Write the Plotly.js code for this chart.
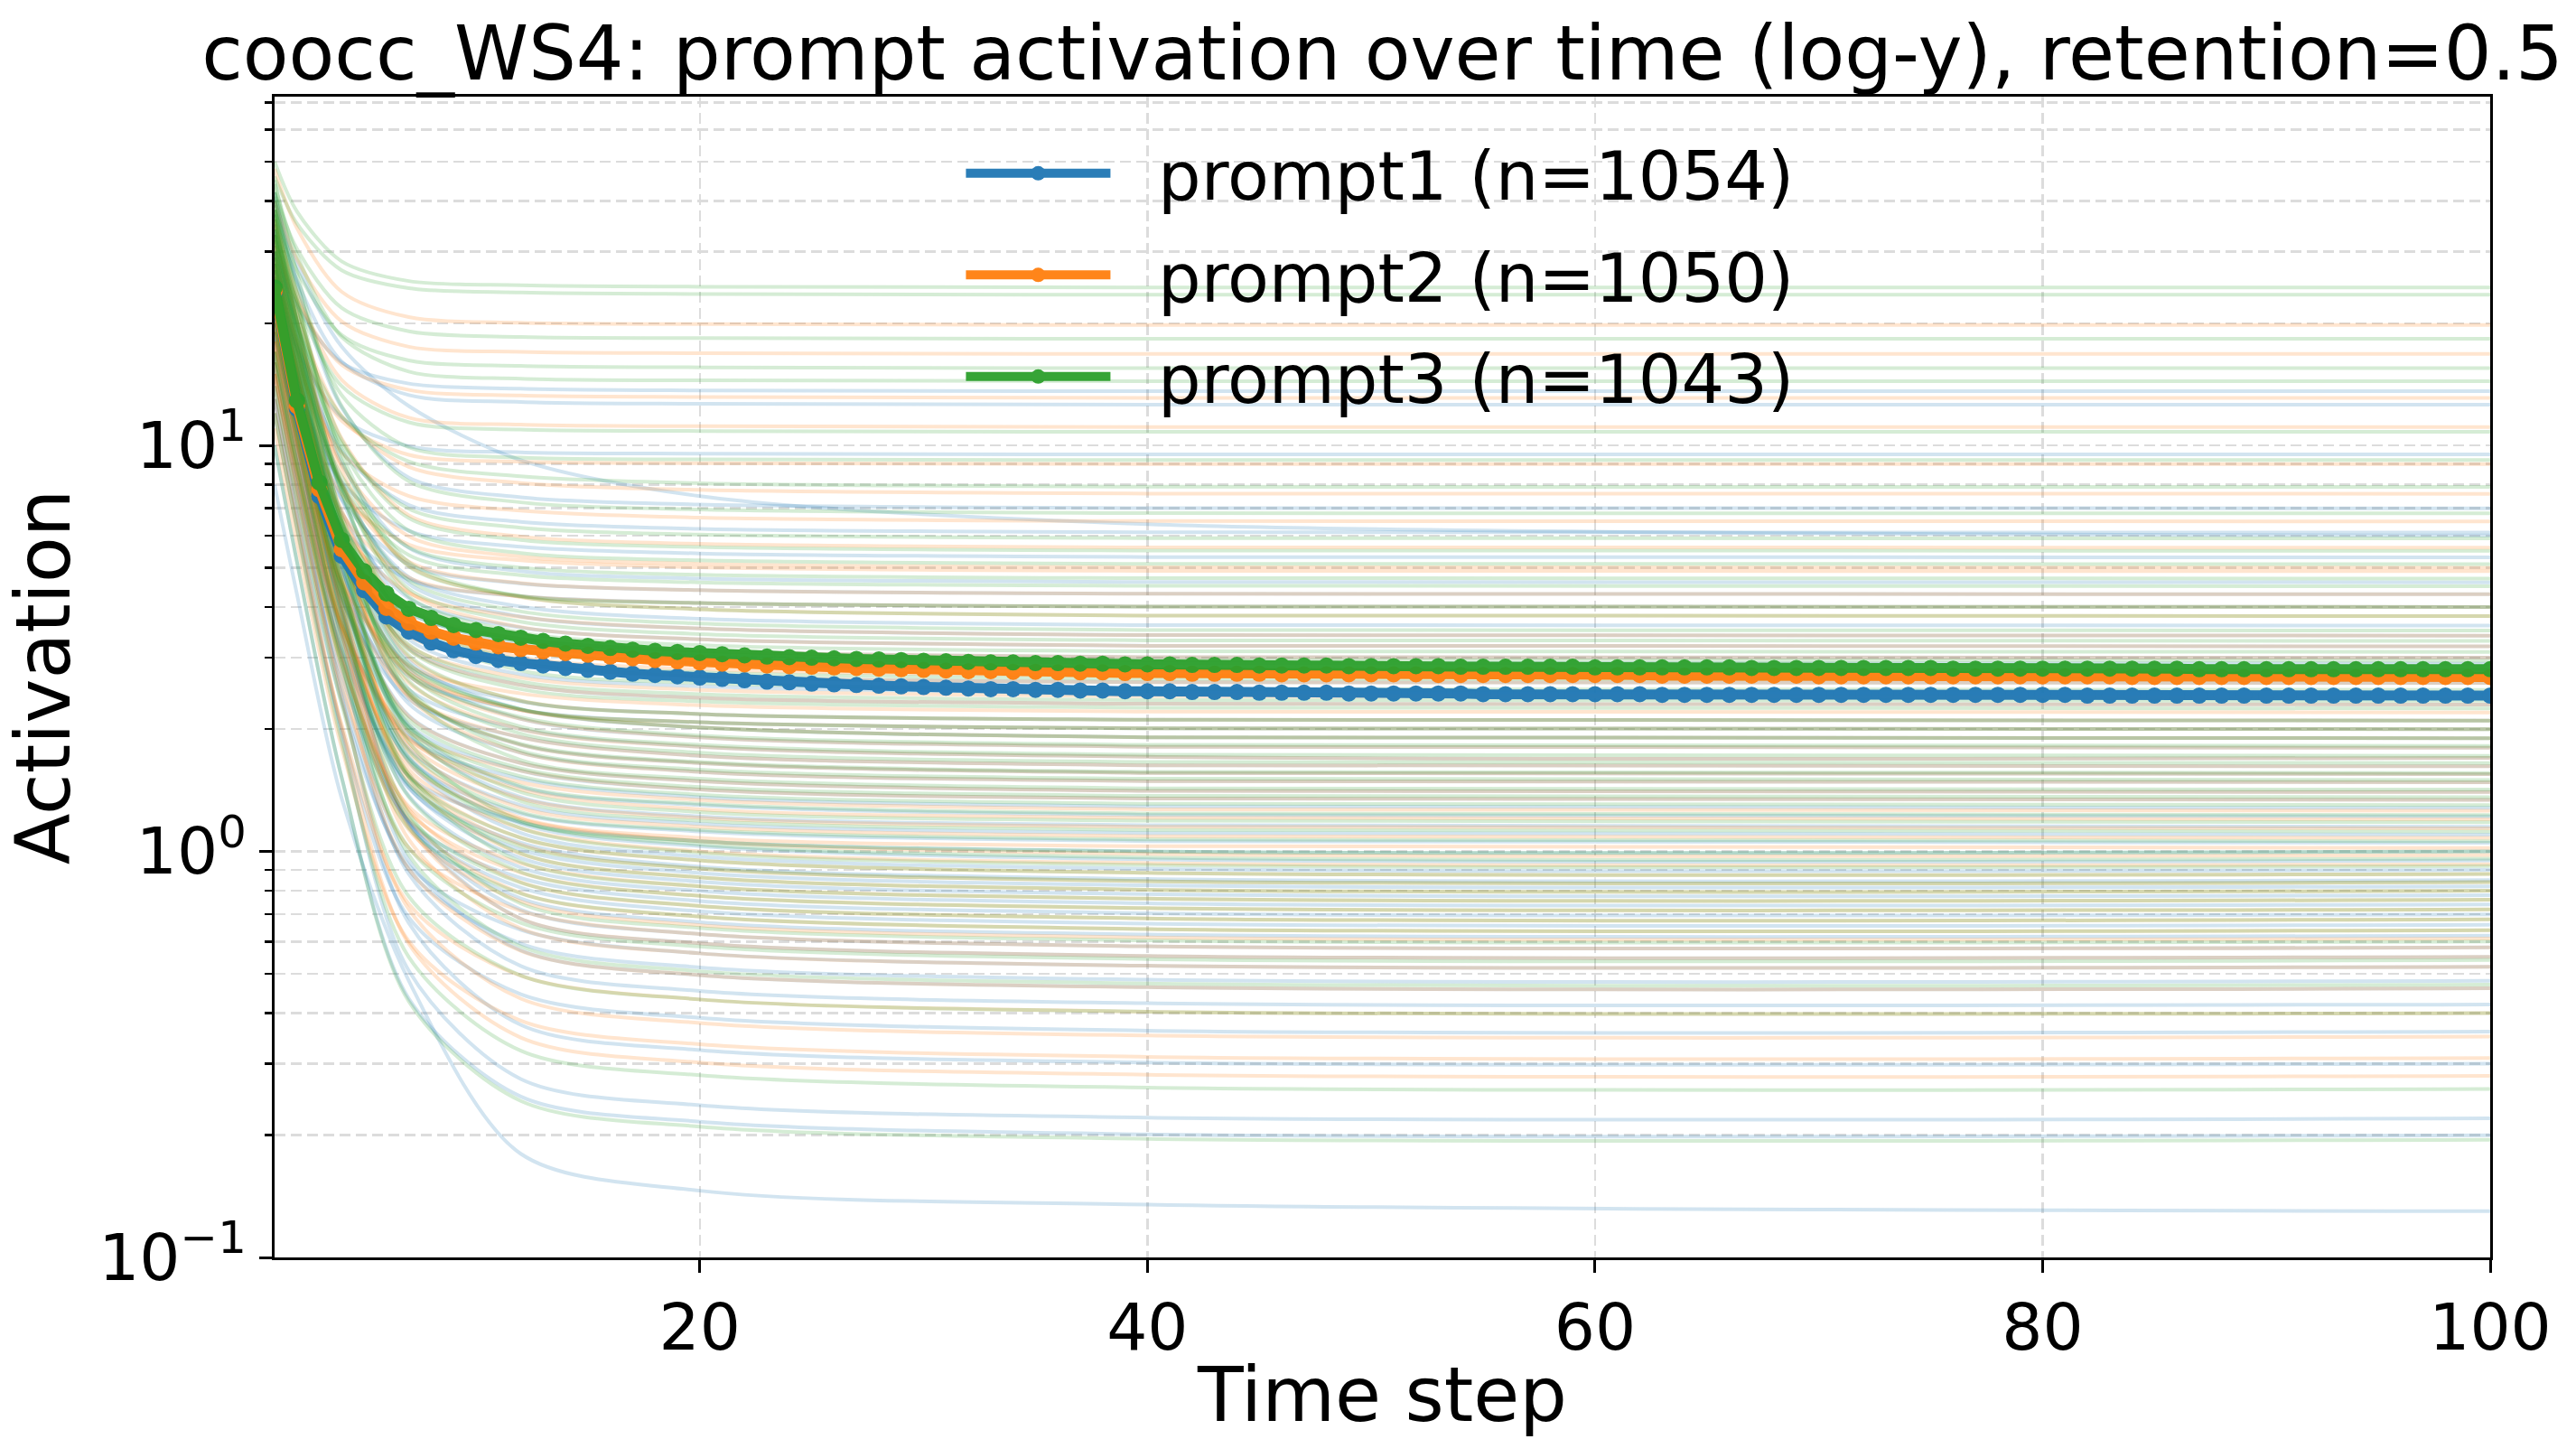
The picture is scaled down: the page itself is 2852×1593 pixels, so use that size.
<!DOCTYPE html>
<html>
<head>
<meta charset="utf-8">
<script src="https://cdn.plot.ly/plotly-3.0.1.min.js"></script>
<style>html,body{margin:0;padding:0;background:#fff;}#chart{width:2852px;height:1593px;}</style>
</head>
<body>
<div id="chart"></div>
<script>
// ---------- data ----------
const TITLE = "coocc_WS4: prompt activation over time (log-y), retention=0.5";
const X_LABEL = "Time step";
const Y_LABEL = "Activation";
const SERIES_NAMES = ["prompt1 (n=1054)", "prompt2 (n=1050)", "prompt3 (n=1043)"];
const SERIES_COLORS = ["#1f77b4", "#ff7f0e", "#2ca02c"];
const X_TICKS = [20, 40, 60, 80, 100];
const Y_TICKS = [0.1, 1, 10];
const Y_TICK_TEXT = ["10<sup>\u22121</sup>", "10<sup>0</sup>", "10<sup>1</sup>"];
const Y_MINOR = [0.2,0.3,0.4,0.5,0.6,0.7,0.8,0.9,2,3,4,5,6,7,8,9,20,30,40,50,60,70];

// time steps at which each faint per-item line was read
const KEY_STEPS = [1, 2, 4, 7, 12, 20, 40, 100];

const P1_LINES = [
  [30, 22.1, 16.0, 14.2, 13.8, 13.66, 13.6, 13.6],
  [38, 25.5, 16.1, 13.3, 12.8, 12.66, 12.6, 12.6],
  [25, 17.4, 11.7, 9.95, 9.62, 9.54, 9.5, 9.5],
  [42, 25.1, 12.4, 8.33, 7.45, 7.15, 7.01, 7.0],
  [40, 28, 17.5, 12.5, 9.2, 7.5, 6.4, 6.0],
  [28, 17.6, 9.69, 7.13, 6.48, 6.23, 6.11, 6.1],
  [22, 14.2, 8.12, 6.16, 5.63, 5.42, 5.31, 5.3],
  [35, 20.2, 9.04, 5.59, 4.90, 4.70, 4.61, 4.6],
  [24, 14.6, 7.36, 5.09, 4.57, 4.40, 4.31, 4.3],
  [18, 11.4, 6.31, 4.67, 4.25, 4.09, 4.01, 4.0],
  [30, 17.4, 7.8, 4.74, 4.01, 3.74, 3.61, 3.6],
  [34, 19.3, 8.07, 4.56, 3.79, 3.54, 3.41, 3.4],
  [26, 15.2, 6.85, 4.2, 3.56, 3.33, 3.21, 3.2],
  [19, 11.5, 5.75, 3.86, 3.34, 3.12, 3.01, 3.0],
  [33, 18.5, 7.39, 3.96, 3.23, 3.02, 2.91, 2.9],
  [20, 11.8, 5.43, 3.4, 2.9, 2.7, 2.61, 2.6],
  [27, 15.1, 6.13, 3.33, 2.73, 2.55, 2.46, 2.45],
  [28, 15.5, 6.09, 3.17, 2.57, 2.39, 2.31, 2.3],
  [24, 13.4, 5.36, 2.87, 2.34, 2.18, 2.11, 2.1],
  [21, 11.8, 4.87, 2.7, 2.23, 2.08, 2.01, 2.0],
  [31, 17.0, 6.28, 2.95, 2.24, 2.02, 1.91, 1.9],
  [30, 16.4, 6.03, 2.81, 2.12, 1.91, 1.81, 1.8],
  [19, 10.8, 4.52, 2.5, 2.0, 1.81, 1.71, 1.7],
  [17, 9.74, 4.17, 2.37, 1.91, 1.72, 1.63, 1.62],
  [27, 14.7, 5.34, 2.43, 1.83, 1.65, 1.56, 1.55],
  [25, 13.6, 5.0, 2.31, 1.75, 1.57, 1.49, 1.48],
  [22, 12.1, 4.52, 2.16, 1.65, 1.49, 1.41, 1.4],
  [20, 11.0, 4.2, 2.05, 1.58, 1.42, 1.35, 1.34],
  [16, 8.98, 3.62, 1.91, 1.51, 1.36, 1.29, 1.28],
  [28, 14.9, 5.04, 2.02, 1.44, 1.30, 1.23, 1.22],
  [29, 15.4, 5.08, 1.95, 1.36, 1.22, 1.16, 1.15],
  [23, 12.3, 4.26, 1.79, 1.30, 1.17, 1.11, 1.1],
  [21, 11.3, 3.95, 1.69, 1.24, 1.12, 1.06, 1.05],
  [15, 8.27, 3.14, 1.53, 1.18, 1.06, 1.0, 1.0],
  [25, 13.3, 4.43, 1.71, 1.17, 1.03, 0.956, 0.95],
  [26, 13.8, 4.49, 1.66, 1.11, 0.971, 0.906, 0.9],
  [18, 9.71, 3.42, 1.46, 1.05, 0.917, 0.855, 0.85],
  [19, 10.2, 3.5, 1.43, 1.01, 0.885, 0.825, 0.82],
  [23, 12.2, 3.95, 1.44, 0.963, 0.842, 0.785, 0.78],
  [22, 11.6, 3.77, 1.37, 0.913, 0.799, 0.745, 0.74],
  [14, 7.59, 2.71, 1.19, 0.86, 0.755, 0.704, 0.7],
  [17, 9.05, 3.03, 1.18, 0.814, 0.712, 0.664, 0.66],
  [20, 10.5, 3.35, 1.17, 0.766, 0.669, 0.624, 0.62],
  [24, 12.5, 3.8, 1.18, 0.719, 0.626, 0.584, 0.58],
  [26, 13.5, 4.01, 1.17, 0.683, 0.594, 0.553, 0.55],
  [13, 6.93, 2.34, 0.924, 0.641, 0.561, 0.523, 0.52],
  [15, 7.9, 2.53, 0.9, 0.593, 0.518, 0.483, 0.48],
  [20, 10.4, 3.13, 0.95, 0.571, 0.496, 0.463, 0.46],
  [19, 9.85, 2.95, 0.879, 0.522, 0.453, 0.423, 0.42],
  [12, 6.3, 2.0, 0.687, 0.445, 0.389, 0.362, 0.36],
  [16, 8.26, 2.41, 0.666, 0.374, 0.324, 0.302, 0.3],
  [13, 6.68, 1.93, 0.508, 0.275, 0.237, 0.221, 0.22],
  [10, 5.17, 1.52, 0.434, 0.249, 0.216, 0.201, 0.2],
  [8, 4.3, 1.35, 0.48, 0.18, 0.146, 0.135, 0.13]
];

const P2_LINES = [
  [48, 34.3, 23.9, 20.7, 20.06, 19.89, 19.8, 19.8],
  [40, 28.7, 20.2, 17.5, 17.0, 16.87, 16.8, 16.8],
  [32, 22.8, 15.8, 13.7, 13.27, 13.16, 13.1, 13.1],
  [36, 23.8, 14.5, 11.7, 11.25, 11.15, 11.1, 11.1],
  [27, 18.2, 11.5, 9.48, 9.12, 9.04, 9.0, 9.0],
  [33, 21.0, 11.8, 8.85, 8.08, 7.77, 7.61, 7.6],
  [24, 15.9, 9.59, 7.5, 6.91, 6.64, 6.51, 6.5],
  [38, 22.3, 10.4, 6.73, 5.96, 5.72, 5.61, 5.6],
  [31, 18.5, 8.94, 5.97, 5.32, 5.11, 5.01, 5.0],
  [21, 13.4, 7.59, 5.7, 5.21, 5.01, 4.91, 4.9],
  [29, 17.1, 7.98, 5.17, 4.58, 4.40, 4.31, 4.3],
  [22, 13.4, 6.81, 4.73, 4.25, 4.09, 4.01, 4.0],
  [35, 20.1, 8.65, 5.05, 4.23, 3.95, 3.81, 3.8],
  [19, 11.8, 6.2, 4.33, 3.78, 3.54, 3.41, 3.4],
  [36, 20.2, 8.1, 4.36, 3.57, 3.33, 3.21, 3.2],
  [26, 15.0, 6.63, 3.96, 3.34, 3.12, 3.01, 3.0],
  [31, 17.3, 6.92, 3.69, 3.01, 2.81, 2.71, 2.7],
  [20, 11.8, 5.43, 3.4, 2.9, 2.7, 2.61, 2.6],
  [23, 13.1, 5.58, 3.21, 2.68, 2.50, 2.41, 2.4],
  [27, 15.0, 5.97, 3.15, 2.57, 2.39, 2.31, 2.3],
  [17, 9.97, 4.6, 2.87, 2.45, 2.29, 2.21, 2.2],
  [33, 17.9, 6.49, 3.01, 2.35, 2.18, 2.11, 2.1],
  [28, 15.3, 5.75, 2.81, 2.23, 2.08, 2.01, 2.0],
  [18, 10.5, 4.65, 2.75, 2.23, 2.02, 1.91, 1.9],
  [24, 13.4, 5.28, 2.71, 2.12, 1.91, 1.81, 1.8],
  [25, 13.8, 5.27, 2.6, 2.0, 1.81, 1.71, 1.7],
  [20, 11.2, 4.55, 2.42, 1.91, 1.72, 1.63, 1.62],
  [29, 15.7, 5.59, 2.46, 1.83, 1.65, 1.56, 1.55],
  [30, 16.1, 5.63, 2.39, 1.75, 1.57, 1.49, 1.48],
  [21, 11.6, 4.4, 2.15, 1.65, 1.49, 1.41, 1.4],
  [15, 8.53, 3.57, 1.97, 1.58, 1.42, 1.35, 1.34],
  [16, 8.97, 3.59, 1.89, 1.48, 1.34, 1.27, 1.26],
  [22, 11.9, 4.27, 1.9, 1.42, 1.27, 1.21, 1.2],
  [24, 12.9, 4.44, 1.85, 1.35, 1.21, 1.15, 1.14],
  [26, 13.8, 4.62, 1.81, 1.28, 1.15, 1.09, 1.08],
  [28, 14.8, 4.79, 1.76, 1.21, 1.08, 1.03, 1.02],
  [18, 9.83, 3.6, 1.64, 1.2, 1.06, 0.986, 0.98],
  [19, 10.3, 3.65, 1.59, 1.14, 1.0, 0.936, 0.93],
  [21, 11.2, 3.84, 1.55, 1.08, 0.95, 0.886, 0.88],
  [23, 12.2, 4.03, 1.53, 1.04, 0.907, 0.845, 0.84],
  [24, 12.7, 4.1, 1.49, 0.987, 0.863, 0.805, 0.8],
  [15, 8.14, 2.93, 1.29, 0.935, 0.82, 0.765, 0.76],
  [16, 8.61, 2.99, 1.25, 0.886, 0.777, 0.725, 0.72],
  [21, 11.1, 3.56, 1.27, 0.84, 0.734, 0.684, 0.68],
  [20, 10.5, 3.38, 1.2, 0.79, 0.691, 0.644, 0.64],
  [18, 9.51, 3.09, 1.13, 0.753, 0.658, 0.614, 0.61],
  [14, 7.49, 2.55, 1.02, 0.714, 0.626, 0.584, 0.58],
  [25, 13.0, 3.89, 1.15, 0.683, 0.594, 0.553, 0.55],
  [22, 11.4, 3.47, 1.07, 0.646, 0.561, 0.523, 0.52],
  [17, 8.88, 2.76, 0.904, 0.569, 0.496, 0.463, 0.46],
  [12, 6.34, 2.05, 0.742, 0.494, 0.432, 0.403, 0.4],
  [15, 7.8, 2.36, 0.72, 0.434, 0.378, 0.352, 0.35],
  [11, 5.77, 1.8, 0.601, 0.383, 0.335, 0.312, 0.31],
  [13, 6.74, 2.01, 0.592, 0.348, 0.302, 0.282, 0.28]
];

const P3_LINES = [
  [50, 37.7, 28.4, 25.4, 24.8, 24.6, 24.5, 24.5],
  [46, 35.2, 27.0, 24.4, 23.8, 23.6, 23.5, 23.5],
  [42, 30.5, 21.8, 19.1, 18.5, 18.38, 18.3, 18.3],
  [38, 27.0, 18.7, 16.2, 15.7, 15.57, 15.5, 15.5],
  [44, 29.5, 18.5, 15.2, 14.6, 14.46, 14.4, 14.4],
  [34, 22.6, 14.0, 11.4, 10.94, 10.85, 10.8, 10.8],
  [40, 24.8, 13.3, 9.89, 9.33, 9.24, 9.2, 9.2],
  [30, 19.7, 11.8, 9.13, 8.39, 8.07, 7.91, 7.9],
  [45, 26.6, 12.5, 8.16, 7.24, 6.95, 6.81, 6.8],
  [33, 20.0, 10.1, 6.98, 6.27, 6.03, 5.91, 5.9],
  [38, 22.3, 10.3, 6.62, 5.85, 5.62, 5.51, 5.5],
  [37, 21.5, 9.8, 6.17, 5.43, 5.21, 5.11, 5.1],
  [29, 17.3, 8.39, 5.61, 5.0, 4.80, 4.71, 4.7],
  [28, 16.7, 8.07, 5.37, 4.79, 4.6, 4.51, 4.5],
  [41, 22.9, 9.18, 5.03, 4.26, 4.09, 4.01, 4.0],
  [42, 23.6, 9.52, 5.16, 4.24, 3.95, 3.81, 3.8],
  [32, 18.4, 7.94, 4.65, 3.9, 3.64, 3.51, 3.5],
  [33, 18.7, 7.84, 4.43, 3.68, 3.43, 3.31, 3.3],
  [36, 20.1, 7.99, 4.24, 3.46, 3.22, 3.11, 3.1],
  [25, 14.5, 6.44, 3.89, 3.29, 3.07, 2.96, 2.95],
  [27, 15.4, 6.53, 3.74, 3.12, 2.91, 2.81, 2.8],
  [37, 20.3, 7.61, 3.72, 2.96, 2.76, 2.66, 2.65],
  [39, 21.2, 7.69, 3.57, 2.79, 2.6, 2.51, 2.5],
  [28, 15.6, 6.14, 3.23, 2.62, 2.44, 2.36, 2.35],
  [30, 16.5, 6.28, 3.14, 2.51, 2.34, 2.26, 2.25],
  [35, 18.9, 6.73, 3.04, 2.35, 2.18, 2.11, 2.1],
  [34, 18.3, 6.5, 2.9, 2.24, 2.08, 2.01, 2.0],
  [24, 13.5, 5.4, 2.84, 2.24, 2.02, 1.91, 1.9],
  [25, 13.9, 5.43, 2.75, 2.14, 1.93, 1.83, 1.82],
  [32, 17.3, 6.17, 2.73, 2.03, 1.83, 1.73, 1.72],
  [31, 16.8, 5.96, 2.63, 1.95, 1.75, 1.66, 1.65],
  [27, 14.7, 5.34, 2.45, 1.84, 1.66, 1.57, 1.56],
  [36, 19.2, 6.4, 2.51, 1.77, 1.59, 1.51, 1.5],
  [38, 20.1, 6.55, 2.44, 1.68, 1.51, 1.43, 1.42],
  [22, 12.0, 4.47, 2.11, 1.6, 1.44, 1.37, 1.36],
  [21, 11.5, 4.27, 2.02, 1.53, 1.38, 1.31, 1.3],
  [29, 15.4, 5.18, 2.05, 1.45, 1.31, 1.24, 1.23],
  [30, 15.9, 5.24, 2.0, 1.4, 1.25, 1.19, 1.18],
  [33, 17.4, 5.54, 1.97, 1.33, 1.19, 1.13, 1.12],
  [25, 13.3, 4.47, 1.77, 1.25, 1.13, 1.07, 1.06],
  [24, 12.8, 4.27, 1.67, 1.18, 1.06, 1.0, 1.0],
  [34, 17.8, 5.57, 1.86, 1.19, 1.04, 0.966, 0.96],
  [27, 14.3, 4.64, 1.7, 1.14, 0.993, 0.926, 0.92],
  [20, 10.7, 3.71, 1.53, 1.08, 0.95, 0.886, 0.88],
  [19, 10.2, 3.53, 1.46, 1.03, 0.907, 0.845, 0.84],
  [28, 14.7, 4.6, 1.55, 0.989, 0.863, 0.805, 0.8],
  [30, 15.6, 4.8, 1.52, 0.942, 0.82, 0.765, 0.76],
  [23, 12.1, 3.86, 1.36, 0.89, 0.777, 0.725, 0.72],
  [17, 9.07, 3.06, 1.21, 0.838, 0.734, 0.684, 0.68],
  [16, 8.54, 2.88, 1.14, 0.788, 0.691, 0.644, 0.64],
  [26, 13.5, 4.08, 1.24, 0.744, 0.648, 0.604, 0.6],
  [17, 8.96, 2.87, 1.02, 0.667, 0.583, 0.543, 0.54],
  [21, 10.9, 3.27, 0.98, 0.584, 0.507, 0.473, 0.47],
  [14, 7.34, 2.3, 0.774, 0.495, 0.432, 0.403, 0.4],
  [12, 6.22, 1.86, 0.549, 0.323, 0.281, 0.262, 0.26],
  [10, 5.17, 1.52, 0.427, 0.243, 0.21, 0.196, 0.195]
];

// mean activation per time step (steps 1..100)
const MEAN_P1 = [
  23.8, 12.3, 7.50, 5.35, 4.40, 3.79, 3.48, 3.27, 3.13, 3.03,
  2.96, 2.91, 2.87, 2.83, 2.80, 2.77, 2.74, 2.72, 2.70, 2.68,
  2.66, 2.64, 2.62, 2.61, 2.59, 2.58, 2.57, 2.56, 2.55, 2.54,
  2.53, 2.52, 2.51, 2.51, 2.50, 2.50, 2.49, 2.49, 2.48, 2.48,
  2.48, 2.47, 2.47, 2.47, 2.46, 2.46, 2.46, 2.46, 2.45, 2.45,
  2.45, 2.45, 2.45, 2.45, 2.44, 2.44, 2.44, 2.44, 2.44, 2.44,
  2.44, 2.44, 2.43, 2.43, 2.43, 2.43, 2.43, 2.43, 2.43, 2.43,
  2.43, 2.43, 2.43, 2.43, 2.43, 2.43, 2.43, 2.43, 2.43, 2.43,
  2.43, 2.42, 2.42, 2.42, 2.42, 2.42, 2.42, 2.42, 2.42, 2.42,
  2.42, 2.42, 2.42, 2.42, 2.42, 2.42, 2.42, 2.42, 2.42, 2.42
];
const MEAN_P2 = [
  24.0, 12.5, 7.80, 5.55, 4.60, 3.98, 3.66, 3.48, 3.36, 3.27,
  3.20, 3.15, 3.11, 3.08, 3.05, 3.02, 2.99, 2.96, 2.94, 2.92,
  2.90, 2.89, 2.87, 2.86, 2.85, 2.84, 2.83, 2.82, 2.81, 2.80,
  2.79, 2.78, 2.78, 2.77, 2.77, 2.76, 2.76, 2.76, 2.75, 2.75,
  2.75, 2.74, 2.74, 2.74, 2.74, 2.73, 2.73, 2.73, 2.73, 2.73,
  2.73, 2.73, 2.72, 2.72, 2.72, 2.72, 2.72, 2.72, 2.72, 2.72,
  2.72, 2.72, 2.71, 2.71, 2.71, 2.71, 2.71, 2.71, 2.71, 2.70,
  2.70, 2.70, 2.70, 2.70, 2.70, 2.70, 2.70, 2.70, 2.70, 2.70,
  2.70, 2.70, 2.70, 2.69, 2.69, 2.69, 2.69, 2.69, 2.69, 2.69,
  2.69, 2.69, 2.69, 2.69, 2.69, 2.69, 2.69, 2.69, 2.69, 2.69
];
const MEAN_P3 = [
  24.5, 12.9, 8.10, 5.85, 4.90, 4.32, 3.96, 3.76, 3.61, 3.51,
  3.43, 3.36, 3.30, 3.25, 3.21, 3.17, 3.14, 3.12, 3.10, 3.08,
  3.06, 3.04, 3.02, 3.01, 3.00, 2.99, 2.98, 2.97, 2.96, 2.95,
  2.94, 2.93, 2.92, 2.92, 2.91, 2.91, 2.90, 2.90, 2.89, 2.89,
  2.89, 2.88, 2.88, 2.88, 2.87, 2.87, 2.87, 2.87, 2.86, 2.86,
  2.86, 2.86, 2.86, 2.85, 2.85, 2.85, 2.85, 2.85, 2.85, 2.84,
  2.84, 2.84, 2.84, 2.84, 2.84, 2.84, 2.83, 2.83, 2.83, 2.83,
  2.83, 2.83, 2.83, 2.83, 2.83, 2.82, 2.82, 2.82, 2.82, 2.82,
  2.82, 2.82, 2.82, 2.82, 2.82, 2.82, 2.81, 2.81, 2.81, 2.81,
  2.81, 2.81, 2.81, 2.81, 2.81, 2.81, 2.81, 2.81, 2.81, 2.81
];

// ---------- build traces ----------
const FONT = "DejaVu Sans, sans-serif";
const lineGroups = [P1_LINES, P2_LINES, P3_LINES];
const means = [MEAN_P1, MEAN_P2, MEAN_P3];
const traces = [];

lineGroups.forEach((group, gi) => {
  group.forEach(vals => {
    traces.push({
      type: "scatter", mode: "lines",
      x: KEY_STEPS, y: vals,
      line: {color: SERIES_COLORS[gi], width: 4, shape: "spline", smoothing: 0.85},
      opacity: 0.2, showlegend: false, hoverinfo: "skip"
    });
  });
});

means.forEach((m, gi) => {
  traces.push({
    type: "scatter", mode: "lines+markers",
    name: "\u00a0\u00a0" + SERIES_NAMES[gi],
    legendgroup: "g" + gi,
    x: m.map((_, i) => i + 1), y: m,
    line: {color: SERIES_COLORS[gi], width: 11},
    marker: {color: SERIES_COLORS[gi], size: 18},
    opacity: 0.95
  });
});

const gridColor = "#dcdcdc";
const layout = {
  width: 2852, height: 1593,
  margin: {l: 304, r: 95, t: 107, b: 201, pad: 0},
  paper_bgcolor: "#ffffff", plot_bgcolor: "#ffffff",
  font: {family: FONT, color: "#000000"},
  title: {
    text: TITLE, font: {family: FONT, size: 83, color: "#000"},
    xref: "paper", x: 0.5, xanchor: "center",
    yref: "container", y: 0.963, yanchor: "middle"
  },
  xaxis: {
    range: [1, 100],
    tickvals: X_TICKS, ticktext: X_TICKS.map(String),
    ticks: "outside", ticklen: 14, tickwidth: 3, tickcolor: "#000",
    tickfont: {family: FONT, size: 71, color: "#000"},
    showline: true, linecolor: "#000", linewidth: 3, mirror: true,
    showgrid: true, gridcolor: gridColor, gridwidth: 2.5, griddash: "12px,6px",
    zeroline: false,
    title: {text: X_LABEL, font: {family: FONT, size: 83, color: "#000"}, standoff: 18}
  },
  yaxis: {
    type: "log", range: [-1, 1.859],
    tickvals: Y_TICKS, ticktext: Y_TICK_TEXT,
    ticks: "outside", ticklen: 14, tickwidth: 3, tickcolor: "#000",
    tickfont: {family: FONT, size: 71, color: "#000"},
    showline: true, linecolor: "#000", linewidth: 3, mirror: true,
    showgrid: true, gridcolor: gridColor, gridwidth: 2.5, griddash: "12px,6px",
    zeroline: false,
    minor: {
      tickvals: Y_MINOR, ticks: "outside", ticklen: 8, tickwidth: 2.5, tickcolor: "#000",
      showgrid: true, gridcolor: gridColor, gridwidth: 2.5, griddash: "12px,6px"
    },
    title: {text: Y_LABEL, font: {family: FONT, size: 83, color: "#000"}, standoff: 30}
  },
  showlegend: true,
  legend: {
    x: 0.31, xanchor: "left", y: 0.977, yanchor: "top",
    bgcolor: "rgba(0,0,0,0)", borderwidth: 0,
    font: {family: FONT, size: 75, color: "#000"},
    itemwidth: 160, tracegroupgap: 12, traceorder: "grouped"
  }
};

Plotly.newPlot("chart", traces, layout, {staticPlot: true, displayModeBar: false});
</script>
</body>
</html>
